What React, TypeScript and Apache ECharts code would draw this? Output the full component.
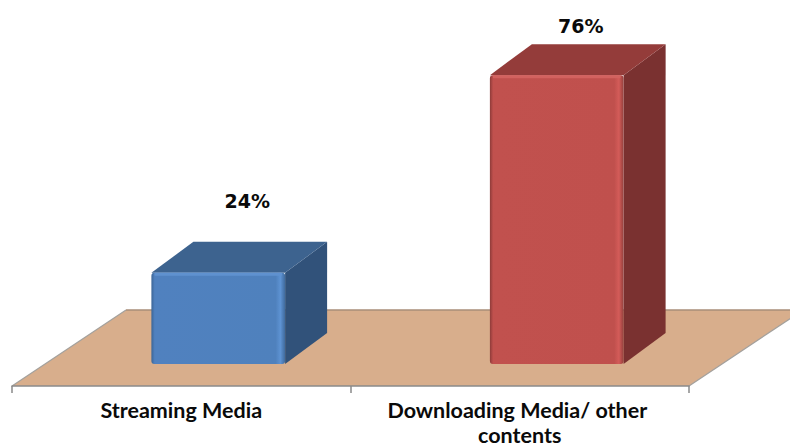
import React, { useEffect, useRef } from "react";
import * as echarts from "echarts";

const categories = ["Streaming Media", "Downloading Media/ other contents"];
const shareValues = [24, 76];
const valueLabels = ["24%", "76%"];

const frontStops = [
  ["#3c6596", "#5081bf", "#4f81bd", "#5e93d3", "#3f6a9c"],
  ["#8e3b39", "#c1514e", "#c0504d", "#d45c59", "#93403d"],
];
const topColors = ["#3d638f", "#943c3a"];
const sideColors = ["#31527a", "#7a3130"];
const topEdgeColors = ["#5f91cf", "#d2625f"];
const labelLift = [72, 49];
const labelShift = [29, 24];
const barShift = 37;
const depthX = 42;
const depthY = 31;
const floorDepthX = 114;
const floorDepthY = 76;
const axisOffset = 22;

export default function App() {
  const ref = useRef<HTMLDivElement>(null);
  useEffect(() => {
    document.body.style.margin = "0";
    const chart = echarts.init(ref.current!, undefined, { renderer: "svg" });
    chart.setOption({
      animation: false,
      backgroundColor: "#ffffff",
      grid: { left: 12, right: 101, top: 60, bottom: 84, outerBoundsMode: "none" },
      xAxis: {
        type: "category",
        data: categories,
        offset: axisOffset,
        z: 5,
        axisLine: { onZero: false, lineStyle: { color: "#8a8a8a", width: 1.5 } },
        axisTick: { show: true, length: 7, lineStyle: { color: "#8a8a8a", width: 1.5 } },
        axisLabel: {
          interval: 0,
          margin: 11,
          width: 330,
          overflow: "break",
          lineHeight: 25,
          color: "#0a0a0a",
          fontFamily: "Lato",
          fontWeight: 700,
          fontSize: 21.5,
        },
      },
      yAxis: { type: "value", min: 0, max: 80, show: false },
      series: [
        {
          name: "floor",
          type: "custom",
          z: 1,
          silent: true,
          data: [[0, 0]],
          renderItem: (params: any) => {
            const c = params.coordSys;
            const y0 = c.y + c.height + axisOffset;
            const x0 = c.x;
            const x1 = c.x + c.width;
            const by = y0 - floorDepthY;
            return {
              type: "group",
              children: [
                {
                  type: "polygon",
                  shape: { points: [[x0, y0], [x1, y0], [x1 + floorDepthX, by], [x0 + floorDepthX, by]] },
                  style: { fill: "#d8ae8c" },
                },
                {
                  type: "line",
                  shape: { x1: x0 + floorDepthX, y1: by, x2: x1 + floorDepthX, y2: by },
                  style: { stroke: "#a98e78", lineWidth: 1.5 },
                },
                {
                  type: "line",
                  shape: { x1: x0, y1: y0, x2: x0 + floorDepthX, y2: by },
                  style: { stroke: "#a3a09c", lineWidth: 1.2 },
                },
                {
                  type: "line",
                  shape: { x1: x1, y1: y0, x2: x1 + floorDepthX, y2: by },
                  style: { stroke: "#a3a09c", lineWidth: 1.2 },
                },
              ],
            };
          },
        },
        {
          name: "share",
          type: "custom",
          z: 2,
          data: shareValues.map((v, i) => [i, v]),
          encode: { x: 0, y: 1 },
          renderItem: (params: any, api: any) => {
            const i = api.value(0);
            const top = api.coord([i, api.value(1)]);
            const base = api.coord([i, 0]);
            const w = api.size([1, 0])[0] * 0.395;
            const cx = top[0] + barShift;
            const x0 = cx - w / 2;
            const x1 = cx + w / 2;
            const yT = top[1];
            const yB = base[1];
            const s = frontStops[i];
            const fill = new echarts.graphic.LinearGradient(0, 0, 1, 0, [
              { offset: 0, color: s[0] },
              { offset: 0.025, color: s[1] },
              { offset: 0.93, color: s[2] },
              { offset: 0.965, color: s[3] },
              { offset: 1, color: s[4] },
            ]);
            return {
              type: "group",
              children: [
                {
                  type: "polygon",
                  shape: { points: [[x1, yT], [x1 + depthX, yT - depthY], [x1 + depthX, yB - depthY], [x1, yB]] },
                  style: { fill: sideColors[i] },
                },
                {
                  type: "polygon",
                  shape: { points: [[x0, yT], [x0 + depthX, yT - depthY], [x1 + depthX, yT - depthY], [x1, yT]] },
                  style: { fill: topColors[i] },
                },
                {
                  type: "rect",
                  shape: { x: x0, y: yT, width: w, height: yB - yT, r: 3 },
                  style: { fill },
                },
                {
                  type: "rect",
                  shape: { x: x0 + 3, y: yT, width: w - 6, height: 3, r: 1 },
                  style: { fill: topEdgeColors[i] },
                },
                {
                  type: "text",
                  style: {
                    x: cx + labelShift[i],
                    y: yT - labelLift[i],
                    text: valueLabels[i],
                    fill: "#0a0a0a",
                    font: "bold 19px 'DejaVu Sans'",
                    align: "center",
                    verticalAlign: "middle",
                  },
                },
              ],
            };
          },
        },
      ],
    });
    return () => chart.dispose();
  }, []);
  return <div ref={ref} style={{ width: 790, height: 448, overflow: "hidden" }} />;
}
